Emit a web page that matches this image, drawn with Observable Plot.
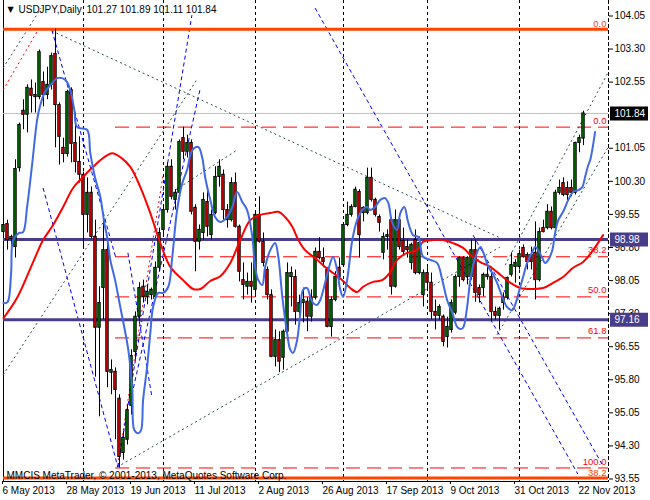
<!DOCTYPE html>
<html><head><meta charset="utf-8">
<script src="https://cdn.jsdelivr.net/npm/d3@7"></script>
<script src="https://cdn.jsdelivr.net/npm/@observablehq/plot@0.6"></script>
<style>html,body{margin:0;padding:0;background:#fff} svg{display:block}</style>
</head><body><div id="chart"></div>
<script>
// ---- Daily USDJPY bars (index 0 = 6 May 2013) ----
const opens = [
99.15,99.33,99.04,98.81,100.60,101.90,101.81,102.40,102.26,102.21,
102.55,102.26,102.49,103.19,102.03,101.06,100.92,102.37,101.17,100.74,
100.45,99.54,100.04,99.04,96.98,97.88,98.74,95.96,95.98,95.37,
94.14,94.44,95.21,96.43,97.23,97.91,97.68,97.72,97.68,98.34,
99.20,99.65,100.63,99.88,100.04,101.28,100.97,101.17,99.70,98.93,
99.13,99.83,99.08,99.58,100.40,100.45,99.65,99.42,100.26,99.27,
98.06,97.91,98.02,97.84,99.54,98.93,98.29,97.72,96.32,96.70,
96.30,96.89,98.13,98.13,97.34,97.54,97.57,97.23,97.66,98.70,
98.56,98.29,97.00,97.61,98.34,98.40,99.31,99.54,99.72,100.06,
99.70,99.58,100.38,99.88,99.49,98.68,99.04,99.42,97.91,99.42,
98.95,98.81,98.45,98.97,98.22,97.72,98.22,98.00,97.34,97.25,
97.23,96.77,96.93,97.32,98.13,98.56,98.13,98.13,98.74,97.88,
97.88,98.18,98.13,97.34,97.25,97.54,97.66,98.18,98.36,98.36,
98.79,98.63,98.63,98.68,98.06,99.24,99.24,99.61,99.24,100.04,
100.26,100.15,100.15,100.04,101.17,101.27];
const highs = [
99.45,99.42,99.08,100.79,101.62,102.15,102.49,102.60,102.53,103.28,
102.78,102.89,103.21,103.75,102.08,101.28,102.37,102.42,101.81,101.31,
100.51,100.38,100.17,99.42,97.91,99.47,98.97,96.25,96.07,95.46,
94.62,95.23,96.48,97.34,98.00,98.06,97.95,97.88,98.47,99.24,
99.77,100.72,100.79,100.11,101.24,101.53,101.35,101.24,99.77,99.31,
100.04,100.11,99.65,100.63,100.79,100.56,99.77,100.38,100.49,99.31,
98.45,98.22,98.45,99.58,99.95,99.13,98.36,97.84,96.93,96.89,
96.93,98.45,98.36,98.29,97.72,97.88,97.66,97.84,98.79,99.02,
98.79,98.34,97.68,98.25,98.56,99.36,99.83,99.77,100.17,100.11,
99.72,100.60,100.60,99.92,99.54,99.13,99.20,99.47,99.65,99.47,
99.24,98.97,98.90,99.20,99.04,98.29,98.34,98.22,97.61,97.50,
97.27,97.22,97.61,98.18,98.59,98.59,98.59,98.97,98.97,97.95,
98.22,98.45,98.29,97.45,97.45,97.77,98.13,98.68,98.52,98.74,
98.86,98.68,98.81,99.38,99.24,99.42,99.77,99.72,100.10,100.33,
100.38,100.29,100.33,101.19,101.35,101.89];
const lows = [
99.02,98.74,98.63,98.56,100.51,101.47,101.40,101.85,101.85,102.15,
101.99,102.15,102.37,101.06,100.67,100.72,100.85,100.72,100.49,100.26,
98.81,99.13,98.99,95.86,94.96,97.16,95.62,95.46,94.44,93.80,
93.98,94.32,95.00,96.25,97.11,97.54,97.50,97.61,97.61,98.25,
99.08,99.58,99.88,99.65,99.99,100.79,100.83,99.54,98.25,98.74,
98.97,99.04,98.97,99.54,100.17,99.42,99.24,99.38,99.24,98.02,
97.61,97.72,97.54,97.68,98.90,98.36,97.61,96.30,96.09,95.96,
96.02,96.86,97.45,97.04,97.16,97.09,96.89,97.11,97.61,98.52,
98.34,96.98,96.77,97.57,98.06,98.36,99.27,99.49,99.70,98.56,
99.38,99.54,99.83,99.49,99.15,98.52,98.74,97.72,97.88,98.74,
98.63,98.56,98.29,98.18,98.18,97.45,97.84,97.16,96.93,97.16,
96.55,96.52,96.86,97.27,97.90,98.02,97.95,98.06,97.56,97.54,
97.68,98.06,97.11,97.16,96.93,97.38,97.61,98.13,97.99,98.29,
98.56,98.29,98.29,97.61,98.02,99.13,99.20,99.20,99.20,99.99,
99.95,99.81,99.95,99.99,100.95,101.11];
const closes = [
99.31,98.97,98.99,100.58,101.58,101.81,102.42,102.24,102.21,103.23,
102.26,102.49,103.14,102.03,101.31,100.92,102.33,101.15,100.74,100.45,
99.54,100.04,99.04,96.98,97.54,98.74,95.98,96.02,95.57,94.05,
94.48,95.11,96.34,97.23,97.88,97.68,97.79,97.84,98.34,99.13,
99.65,100.63,99.95,100.04,101.19,100.97,101.17,99.61,98.93,99.20,
99.88,99.27,99.54,100.40,100.63,99.65,99.42,100.26,99.27,98.25,
97.95,98.02,97.91,99.54,98.93,98.45,97.72,96.32,96.70,96.21,
96.89,98.22,98.22,97.34,97.54,97.61,97.23,97.66,98.70,98.56,
98.47,97.00,97.61,98.13,98.13,99.31,99.54,99.72,100.11,99.08,
99.58,100.38,99.88,99.54,99.36,99.04,99.08,97.91,99.42,98.81,
98.70,98.74,98.86,98.22,98.90,98.22,98.00,97.34,97.25,97.45,
96.66,97.00,97.54,98.13,98.56,98.06,98.56,98.74,97.77,97.72,
98.18,98.13,97.34,97.25,97.41,97.66,98.11,98.40,98.45,98.65,
98.59,98.47,98.47,98.06,99.15,99.15,99.61,99.24,100.04,100.15,
99.99,99.99,100.04,101.17,101.28,101.84];

// ---- x axis (bar index) labels ----
const dateBars = [0,16,32,48,64,80,96,112,128,144];
const dateLabels = ["6 May 2013","28 May 2013","19 Jun 2013","11 Jul 2013","2 Aug 2013",
  "26 Aug 2013","17 Sep 2013","9 Oct 2013","31 Oct 2013","22 Nov 2013"];
const separatorBars = [20,40,63,85,106,129];   // month starts

// ---- y axis ticks (101.80 is hidden under the bid box) ----
const priceTicks = [104.05,103.30,102.55,101.05,100.30,99.55,98.80,98.05,97.30,96.55,95.80,95.05,94.30,93.55];

// ---- horizontal objects ----
const bidLevel = [101.84];
const supportLevels = [98.98, 97.16];
const orangeFibLevels = [103.75, 93.57];
const orangeFibLabels = ["0.0", "38.2"];
const redFibLevels = [101.53, 98.59, 97.68, 96.75, 93.80];
const redFibLabels = ["0.0", "38.2", "50.0", "61.8", "100.0"];
const redFibStartBar = 28;
const rightEdgeBar = 151.25;

// ---- trend lines [bar1, price1, bar2, price2] ----
const grayDotted = [
  [-0.1,102.87, 9.4,104.23],
  [12.1,103.71,124.1,99.02],
  [28.4,93.82,124.1,98.81],
  [-0.1,95.91,48.6,102.64],
  [42.9,100.10,58.4,101.01],
  [125.4,98.40,151.2,102.78],
  [123.4,96.82,151.2,101.08]];
const redDotted = [
  [-0.1,102.37,8.6,103.73],
  [28.6,93.87,39.9,100.45]];
const blueDashed = [
  [12.1,103.73,28.1,98.56],
  [9.9,100.15,28.6,93.82],
  [28.6,93.82,47.1,104.07],
  [32.1,95.46,49.1,102.37],
  [31.1,98.68,37.1,95.41],
  [77.9,104.23,143.6,93.66],
  [117.4,99.08,149.6,93.89]];

// ---- moving averages [bar, price] ----
const blueMA = [[0,97.54],[1,97.56],[1.9,98.22],[2.4,98.97],[3.9,99.13],[4.9,99.15],[5.9,99.72],[7.2,100.72],[8.4,101.69],[9.2,102.03],[10.4,102.33],[12.2,102.53],[13.4,102.64],[14.7,102.64],[15.9,102.55],[16.7,102.37],[17.7,101.92],[18.4,101.53],[20.9,101.47],[21.7,100.94],[22.9,100.38],[24.2,99.95],[25.2,99.36],[25.9,99.04],[26.7,98.52],[27.9,98.06],[29.2,97.45],[31.2,96.48],[32.2,95.57],[32.7,94.66],[33.7,94.59],[34.4,94.66],[34.9,95.34],[35.9,96.09],[36.7,96.86],[37.4,97.45],[38.7,97.77],[39.9,97.77],[41.2,97.91],[42.2,98.59],[43.4,99.65],[44.7,100.26],[45.9,100.56],[47.2,101.01],[48.7,101.08],[49.7,100.83],[50.4,100.40],[51.7,99.88],[52.9,99.49],[54.2,99.38],[55.9,99.49],[57.2,99.72],[58.4,100.06],[59.7,99.83],[60.9,99.65],[62.2,99.04],[62.9,98.36],[63.7,98.06],[64.7,97.95],[65.4,98.36],[66.7,98.74],[67.9,98.90],[68.7,98.59],[69.7,97.68],[70.9,96.86],[71.7,96.48],[72.4,96.41],[73.4,96.70],[74.2,97.32],[74.9,97.84],[75.9,97.88],[76.7,97.68],[77.4,97.54],[78.4,97.50],[79.2,97.61],[80.4,98.00],[81.2,98.29],[82.4,98.59],[83.4,98.29],[84.2,97.84],[84.9,97.68],[85.9,98.06],[87.2,98.97],[88.4,99.42],[89.7,99.65],[90.9,99.72],[91.7,99.65],[92.9,99.72],[94.2,99.88],[95.4,99.92],[96.2,99.81],[97.2,99.36],[98.4,99.20],[99.2,99.58],[100.2,99.72],[101.2,99.36],[102.4,99.08],[103.7,99.04],[104.9,98.59],[106.7,98.52],[108.4,98.45],[109.7,98.06],[110.9,97.61],[112.2,97.32],[113.4,97.00],[114.2,96.95],[114.9,96.98],[115.9,97.45],[116.7,98.06],[117.9,98.56],[119.2,98.81],[119.9,98.70],[121.2,98.36],[122.2,98.22],[123.4,98.00],[124.7,97.68],[125.9,97.45],[127.2,97.38],[127.9,97.50],[129.2,97.91],[129.9,98.13],[130.9,98.45],[132.2,98.70],[132.9,98.81],[133.7,98.74],[134.7,98.56],[135.4,98.45],[136.2,98.52],[137.2,98.74],[137.9,99.13],[138.7,99.42],[139.9,99.61],[141.2,99.88],[142.4,100.06],[143.7,100.10],[144.7,100.17],[145.4,100.40],[146.2,100.67],[146.7,100.79],[147.9,101.42]];
const redMA = [[0,97.20],[3.4,97.66],[7.4,98.47],[9.9,98.97],[12.4,99.31],[14.9,99.72],[17.4,100.15],[19.9,100.40],[22.4,100.63],[24.9,100.83],[27.2,100.94],[29.2,100.85],[31.7,100.63],[34.2,100.17],[36.7,99.58],[39.2,98.90],[41.7,98.36],[44.9,98.06],[47.4,97.86],[49.2,97.86],[51.7,98.04],[54.2,98.15],[56.7,98.45],[59.2,98.97],[61.7,99.42],[64.2,99.54],[66.7,99.58],[68.7,99.61],[70.4,99.49],[72.2,99.27],[73.7,98.97],[75.4,98.74],[77.9,98.56],[80.4,98.36],[82.4,98.22],[84.7,98.06],[86.7,97.88],[88.4,97.79],[89.9,97.91],[92.4,98.02],[94.7,98.06],[96.7,98.24],[98.4,98.52],[100.9,98.68],[103.4,98.74],[104.9,98.93],[107.4,98.97],[109.9,98.97],[112.4,98.90],[114.9,98.79],[117.2,98.59],[119.2,98.47],[121.7,98.36],[124.2,98.18],[126.7,98.00],[129.2,97.88],[132.4,97.86],[134.9,97.88],[137.4,98.00],[139.9,98.13],[142.4,98.34],[144.9,98.47],[147.4,98.74],[149.9,99.08]];

const headerSymbol = "USDJPY,Daily";
const headerOHLC = "101.27 101.89 101.11 101.84";
const footerText = "MMCIS MetaTrader, \u00A9 2001-2013, MetaQuotes Software Corp.";

// ---- build ----
const candles = opens.map((o, i) => ({i, o, h: highs[i], l: lows[i], c: closes[i]}));
const boxes = [
  {v: bidLevel[0], fill: "#000000"},
  {v: supportLevels[0], fill: "#483D8B"},
  {v: supportLevels[1], fill: "#483D8B"}];
const redFib = redFibLevels.map((v, k) => ({v, label: redFibLabels[k]}));
const orangeFib = orangeFibLevels.map((v, k) => ({v, label: orangeFibLabels[k]}));
const seg = {x1: d => d[0], y1: d => d[1], x2: d => d[2], y2: d => d[3]};
const FONT = "'Liberation Sans', Arial, sans-serif";

const chart = Plot.plot({
  width: 650, height: 500,
  marginTop: 0, marginLeft: 3, marginRight: 42, marginBottom: 19,
  x: {type: "linear", domain: [0, 145], range: [3, 583]},
  y: {type: "linear", domain: [93.55, 104.05], range: [478.5, 15.5]},
  style: {background: "#ffffff", fontFamily: FONT, fontSize: "10px", color: "#000", overflow: "visible"},
  marks: [
    Plot.ruleX(separatorBars, {x: d => d, stroke: "#000", strokeDasharray: "3,3"}),
    Plot.frame({anchor: "right", stroke: "#000", strokeDasharray: "3,3"}),
    Plot.frame({anchor: "left", stroke: "#000"}),
    Plot.frame({anchor: "bottom", stroke: "#000"}),
    Plot.ruleY(bidLevel, {y: d => d, stroke: "#C0C0C0"}),
    Plot.ruleY(redFib, {y: "v", x1: () => redFibStartBar, x2: () => rightEdgeBar, stroke: "#FF0000", strokeDasharray: "14,7"}),
    Plot.link(grayDotted, {...seg, stroke: "#2F4F4F", strokeDasharray: "2,3"}),
    Plot.link(redDotted, {...seg, stroke: "#FF0000", strokeDasharray: "2,3"}),
    Plot.link(blueDashed, {...seg, stroke: "#0000FF", strokeDasharray: "4,3"}),
    Plot.ruleY(supportLevels, {y: d => d, stroke: "#483D8B", strokeWidth: 3}),
    Plot.ruleY(orangeFib, {y: "v", stroke: "#FF4500", strokeWidth: 3}),
    // candles
    Plot.ruleX(candles, {x: "i", y1: "l", y2: "h", stroke: "#000"}),
    Plot.rect(candles, {x1: d => d.i - 0.3, x2: d => d.i + 0.3, y1: "o", y2: "c",
      fill: d => d.c >= d.o ? "#008000" : "#FF0000", stroke: "#000", strokeWidth: 1}),
    // moving averages
    Plot.line(redMA, {x: d => d[0], y: d => d[1], stroke: "#FF0000", strokeWidth: 2, curve: "catmull-rom"}),
    Plot.line(blueMA, {x: d => d[0], y: d => d[1], stroke: "#4169E1", strokeWidth: 2, curve: "catmull-rom"}),
    // fib labels
    Plot.text(redFib, {y: "v", text: "label", frameAnchor: "right", textAnchor: "end", dx: -2, dy: -6.5, fill: "#FF0000", fontSize: 9.5}),
    Plot.text(orangeFib, {y: "v", text: "label", frameAnchor: "right", textAnchor: "end", dx: -2, dy: -5, fill: "#FF4500", fontSize: 9.5}),
    // axes
    Plot.axisY({anchor: "right", ticks: priceTicks, tickFormat: d => d.toFixed(2), tickSize: 4, tickPadding: 2, label: null, fontSize: 10}),
    Plot.axisX({anchor: "bottom", ticks: dateBars, tickFormat: d => dateLabels[dateBars.indexOf(d)], tickSize: 3, tickPadding: 2, textAnchor: "start", dx: -1, label: null, fontSize: 10}),
    // axis boxes
    Plot.ruleY(boxes, {y: "v", x1: () => 151.75, x2: () => 161.25, stroke: "fill", strokeWidth: 14}),
    Plot.text(boxes, {y: "v", text: d => d.v.toFixed(2), frameAnchor: "right", textAnchor: "start", dx: 6, fill: "#fff", fontSize: 10}),
    // header & footer
    Plot.text(["\u25BC"], {text: d => d, frameAnchor: "top-left", dx: 4, dy: 6, textAnchor: "start", lineAnchor: "top", fontSize: 8, fontFamily: "DejaVu Sans"}),
    Plot.text([headerSymbol], {text: d => d, frameAnchor: "top-left", dx: 15, dy: 5, textAnchor: "start", lineAnchor: "top"}),
    Plot.text([headerOHLC], {text: d => d, frameAnchor: "top-left", dx: 83, dy: 5, textAnchor: "start", lineAnchor: "top"}),
    Plot.text([footerText], {text: d => d, frameAnchor: "bottom-left", dx: 3, dy: -3, textAnchor: "start", lineAnchor: "bottom"})
  ]
});
document.getElementById("chart").appendChild(chart);
</script>
</body></html>
